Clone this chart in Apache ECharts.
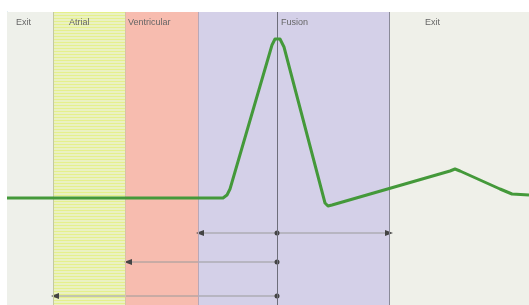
<!DOCTYPE html>
<html>
<head>
<meta charset="utf-8">
<script src="https://cdn.jsdelivr.net/npm/echarts@6/dist/echarts.min.js"></script>
<style>
html, body { margin: 0; padding: 0; background: #fff; }
#chart { width: 529px; height: 305px; }
</style>
</head>
<body>
<div id="chart"></div>
<script>
// zones along the time axis
var zoneNames = ['Exit', 'Atrial', 'Ventricular', 'Fusion', 'Exit'];
var zoneEdges = [0, 46, 118, 191, 382, 522];

// paced waveform
var waveX = [0, 216, 220, 223, 265, 268, 270, 273, 277, 318, 321, 325, 443, 448, 453, 493, 505, 522];
var waveY = [107, 107, 110, 116, 260, 266, 268, 266, 258, 102, 99, 100, 134, 136, 134, 116, 111, 110];

// stimulus marker and interval arrows
var markerX = 270;
var arrowY = [72, 43, 9];
var arrowLeft = [193, 121, 48];
var arrowRight = [382, null, null];

var zoneColors = ['#eef0ea', null, '#f7bcaf', '#d4d0e8', '#eff0e9'];
var labelPos = [[9, 6], [16, 6], [3, 6], [83, 6], [36, 6]];

// striped fill for the atrial zone
var stripe = document.createElement('canvas');
stripe.width = 4; stripe.height = 3;
var sc = stripe.getContext('2d');
sc.fillStyle = '#eaf1c2'; sc.fillRect(0, 0, 4, 3);
sc.fillStyle = '#e5f08c'; sc.fillRect(0, 0, 4, 1);
zoneColors[1] = { image: stripe, repeat: 'repeat' };

var areas = zoneNames.map(function (name, i) {
  return [{
    xAxis: zoneEdges[i],
    name: name,
    itemStyle: { color: zoneColors[i] },
    label: { position: labelPos[i] }
  }, { xAxis: zoneEdges[i + 1] }];
});

var series = [{
  type: 'line',
  data: [],
  z: 1,
  markArea: {
    silent: true,
    label: { show: true, color: '#666', fontSize: 9, fontFamily: 'Liberation Sans' },
    data: areas
  },
  markLine: {
    silent: true,
    symbol: ['none', 'none'],
    label: { show: false },
    data: [
      { xAxis: zoneEdges[1], lineStyle: { color: '#c4caa0', width: 1, type: 'solid' } },
      { xAxis: zoneEdges[2], lineStyle: { color: '#d8c0a8', width: 1, type: 'solid' } },
      { xAxis: zoneEdges[3], lineStyle: { color: '#b8a8b8', width: 1, type: 'solid' } },
      { xAxis: zoneEdges[4], lineStyle: { color: '#8a8a98', width: 1, type: 'solid' } },
      { xAxis: markerX, lineStyle: { color: '#6e6e7a', width: 1, type: 'solid' } }
    ]
  }
}, {
  type: 'line',
  z: 5,
  data: waveX.map(function (x, i) { return [x, waveY[i]]; }),
  showSymbol: false,
  lineStyle: { color: '#44993a', width: 3, join: 'round', cap: 'butt' }
}];

arrowY.forEach(function (y, i) {
  var pts = [];
  pts.push({ value: [arrowLeft[i], y], symbol: 'triangle', symbolRotate: 90, symbolSize: [6, 8] });
  pts.push({ value: [markerX, y], symbol: 'circle', symbolSize: 5 });
  if (arrowRight[i] != null) {
    pts.push({ value: [arrowRight[i], y], symbol: 'triangle', symbolRotate: -90, symbolSize: [6, 8] });
  }
  series.push({
    type: 'line',
    z: 4,
    data: pts,
    showAllSymbol: true,
    lineStyle: { color: '#9a9a9a', width: 1 },
    itemStyle: { color: '#444', borderWidth: 0 }
  });
});

var chart = echarts.init(document.getElementById('chart'));
chart.setOption({
  animation: false,
  grid: { left: 7, top: 12, right: 0, bottom: 0 },
  xAxis: {
    type: 'value', min: 0, max: 522, position: 'top',
    axisLine: { show: true, lineStyle: { color: '#b8d6e6' } },
    axisTick: { show: false }, axisLabel: { show: false }, splitLine: { show: false }
  },
  yAxis: {
    type: 'value', min: 0, max: 293,
    axisLine: { show: true, lineStyle: { color: '#b8d6e6' } },
    axisTick: { show: false }, axisLabel: { show: false }, splitLine: { show: false }
  },
  series: series
});
</script>
</body>
</html>
